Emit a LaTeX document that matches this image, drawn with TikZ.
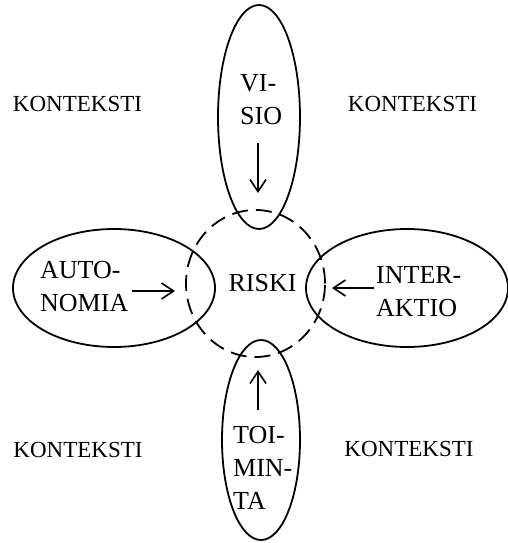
\documentclass[tikz,border=0pt]{standalone}
\usepackage{fontspec}
\setmainfont{Liberation Serif}
\usetikzlibrary{shapes.geometric,arrows.meta}

\tikzset{
  ring/.style={ellipse, draw, line width=1.8pt, inner sep=0pt},
  riskring/.style={ellipse, draw, line width=1.8pt, inner sep=0pt, dash pattern=on 16pt off 8pt},
  label/.style={inner sep=0pt, align=left, font=\fontsize{26}{33}\selectfont},
  ctx/.style={inner sep=0pt, font=\fontsize{23}{28}\selectfont},
  arr/.style={line width=1.6pt, -{Straight Barb[length=12pt, width=16pt, line width=1.6pt]}}
}

\begin{document}
\begin{tikzpicture}[x=1pt, y=-1pt]
        \useasboundingbox (0,0) rectangle (508,543);

        % Draw ellipses
        \node[ring, minimum width=82pt, minimum height=224pt] (visioring) at (259,117) {};
        \node[ring, minimum width=202pt, minimum height=118pt] (autoring) at (114,288) {};
        \node[ring, minimum width=202pt, minimum height=118pt] (interring) at (407,288) {};
        \node[ring, minimum width=78pt, minimum height=200pt] (toimring) at (261,440) {};
        \node[riskring, minimum width=139pt, minimum height=147pt] (riskring) at (255.5,283.5) {};

        % Draw labels
        \node[label, anchor=west] (visio) at (240,100) {VI-\\SIO};
        \node[label, anchor=west] (autonomia) at (40,287) {AUTO-\\NOMIA};
        \node[label, anchor=west] (interaktio) at (376,291.5) {INTER-\\AKTIO};
        \node[label, anchor=west] (toiminta) at (233,467.5) {TOI-\\MIN-\\TA};
        \node[label] (riski) at (262.5,283) {RISKI};

        \node[ctx] (ctxnw) at (77.5,103.5) {KONTEKSTI};
        \node[ctx] (ctxne) at (412.5,103.5) {KONTEKSTI};
        \node[ctx] (ctxsw) at (78,450) {KONTEKSTI};
        \node[ctx] (ctxse) at (409,448.5) {KONTEKSTI};

        % Draw arrows
        \coordinate (visiotail) at (258,143);
        \coordinate (visiohead) at (258,193);
        \coordinate (autotail) at (132,291);
        \coordinate (autohead) at (175,291);
        \coordinate (intertail) at (374,288);
        \coordinate (interhead) at (332,288);
        \coordinate (toimtail) at (258,410);
        \coordinate (toimhead) at (258,370);
        \draw[arr] (visiotail) -- (visiohead);
        \draw[arr] (autotail) -- (autohead);
        \draw[arr] (intertail) -- (interhead);
        \draw[arr] (toimtail) -- (toimhead);
      \end{tikzpicture}
\end{document}
